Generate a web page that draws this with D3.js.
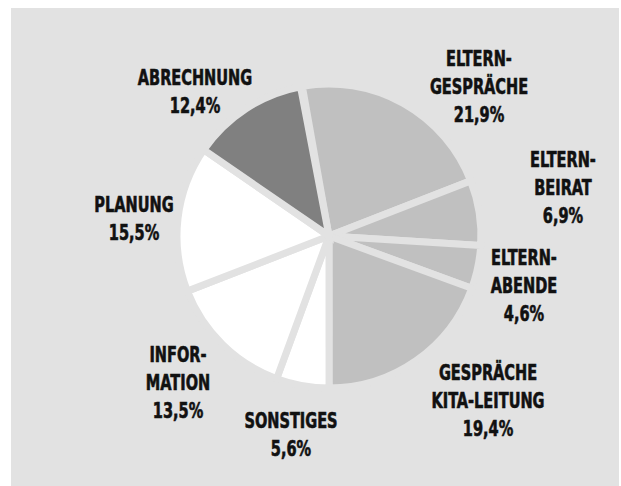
<!DOCTYPE html>
<html>
<head>
<meta charset="utf-8">
<script src="https://cdn.jsdelivr.net/npm/d3@7"></script>
<style>
  html, body { margin: 0; padding: 0; background: #ffffff; }
  svg { display: block; }
  .lbl { font-family: "DejaVu Sans Condensed", "DejaVu Sans", sans-serif; font-weight: bold; font-size: 21px; fill: #111; stroke: #111; stroke-width: 0.6px; }
</style>
</head>
<body>
<svg id="chart" width="621" height="486"></svg>
<script>
// Share of working time by task (percent)
const categories = ["Eltern-gespräche", "Eltern-beirat", "Eltern-abende", "Gespräche Kita-Leitung",
                    "Sonstiges", "Information", "Planung", "Abrechnung"];
const shares = [21.9, 6.9, 4.6, 19.4, 5.6, 13.5, 15.5, 12.4];
const labelLines = [
  ["ELTERN-", "GESPRÄCHE"],
  ["ELTERN-", "BEIRAT"],
  ["ELTERN-", "ABENDE"],
  ["GESPRÄCHE", "KITA-LEITUNG"],
  ["SONSTIGES"],
  ["INFOR-", "MATION"],
  ["PLANUNG"],
  ["ABRECHNUNG"]
];
const sliceFills = ["#c0c0c0", "#c0c0c0", "#c0c0c0", "#c0c0c0", "#ffffff", "#ffffff", "#ffffff", "#808080"];

// Label anchors (centre x, first baseline y)
const labelAnchors = [[479, 66], [563, 167], [524, 265], [488, 380], [291, 428], [178, 362], [134, 212], [195, 85]];

const W = 621, H = 486;
const cx = 329, cy = 236, R = 152;
const gap = 7;
const bg = "#e2e2e2";
const squeeze = 0.77;   // condensed lettering

const svg = d3.select("#chart");
svg.append("rect").attr("x", 11).attr("y", 8).attr("width", 608).attr("height", H - 8).attr("fill", bg);

const total = d3.sum(shares);
const pie = d3.pie().sort(null).value(d => d)
  .startAngle(-10.1 * Math.PI / 180)
  .endAngle((-10.1 + 360 * total / 100) * Math.PI / 180);
const arc = d3.arc().innerRadius(0).outerRadius(R);

const g = svg.append("g").attr("transform", `translate(${cx},${cy})`);
g.selectAll("path").data(pie(shares)).join("path")
  .attr("d", arc)
  .attr("fill", (d, i) => sliceFills[i])
  .attr("stroke", bg)
  .attr("stroke-width", gap)
  .attr("stroke-linejoin", "miter");

const fmt = v => d3.format(".1f")(v).replace(".", ",") + "%";
const lineH = 28;

const labels = svg.append("g");
shares.forEach((v, i) => {
  const [x, y] = labelAnchors[i];
  const lines = labelLines[i].concat([fmt(v)]);
  const t = labels.append("text").attr("class", "lbl").attr("text-anchor", "middle")
    .attr("transform", `translate(${x},0) scale(${squeeze},1)`);
  lines.forEach((s, k) => {
    t.append("tspan").attr("x", 0).attr("y", y + k * lineH).text(s);
  });
});
</script>
</body>
</html>
